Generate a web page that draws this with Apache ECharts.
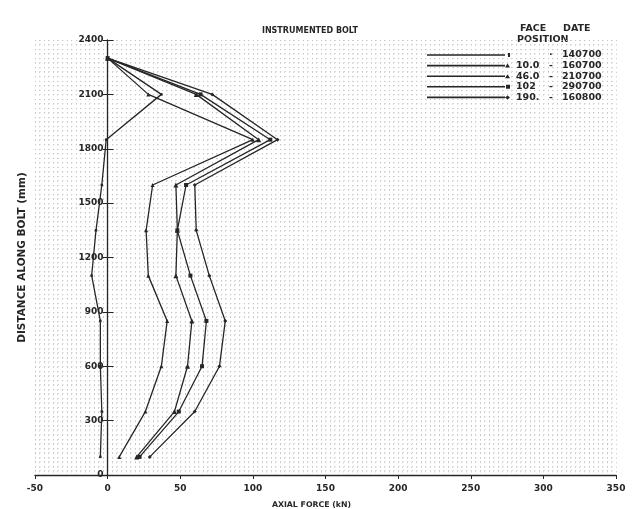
<!DOCTYPE html>
<html>
<head>
<meta charset="utf-8">
<script src="https://cdn.jsdelivr.net/npm/echarts@6/dist/echarts.min.js"></script>
<style>
  html, body { margin: 0; padding: 0; background: #fff; }
  #chart { width: 633px; height: 509px; }
</style>
</head>
<body>
<div id="chart"></div>
<script>
// depth of each gauge along the bolt (mm), top to bottom
const depths = [2300, 2100, 1850, 1600, 1350, 1100, 850, 600, 350, 100]

// legend columns
const facePositions = ['', '10.0', '46.0', '102', '190.']
const dates = ['140700', '160700', '210700', '290700', '160800']

// axial force (kN) at each depth, one array per reading
const force140700 = [0, 37, -1, -4, -8, -11, -5, -5, -4, -5]
const force160700 = [0, 28, 100, 31, 26.5, 28, 41, 37, 26, 8]
const force210700 = [0, 61, 104, 47, 48, 47, 58, 55, 46, 20]
const force290700 = [0, 64, 112, 54, 48, 57, 68, 65, 49, 22]
const force160800 = [0, 72, 117, 60, 61, 70, 81, 77, 60, 29]

const xTicks = { min: -50, max: 350, interval: 50 }
const yTicks = { min: 0, max: 2400, interval: 300 }

const allForces = [force140700, force160700, force210700, force290700, force160800]
const symbols = ['rect', 'triangle', 'triangle', 'rect', 'diamond']
const symbolSizes = [2.5, 4, 5, 4, 4]

// legend keys: a line with the marker at its right end (83 x 4 box)
const keyLine = 'M0,1.2 L78,1.2 L78,2.8 L0,2.8 Z '
const legendIcons = [
  'path://' + keyLine + 'M81,0 L83,0 L83,4 L81,4 Z',
  'path://' + keyLine + 'M78,4 L80.5,0 L83,4 Z',
  'path://' + keyLine + 'M78,4 L80.5,0 L83,4 Z',
  'path://' + keyLine + 'M79,0 L83,0 L83,4 L79,4 Z',
  'path://' + keyLine + 'M78,2 L80.5,0 L83,2 L80.5,4 Z'
]

const ink = '#262626'
const font = '"DejaVu Sans", Verdana, sans-serif'
// dot-matrix paper look
const dotLine = { color: '#c4c4c4', width: 1, type: [1, 3.54] }

const names = facePositions.map((f, i) => `${f}|${dates[i]}`)

// plot area in px, used to put the distance axis on force = 0
const gridLeft = 35, gridRight = 17
const plotWidth = 633 - gridLeft - gridRight
const zeroShift = plotWidth * (0 - xTicks.min) / (xTicks.max - xTicks.min)

const labelStyle = { fontFamily: font, fontSize: 9, fontWeight: 'bold', color: ink }
const legendText = { ...labelStyle, fontSize: 9.5, lineHeight: 9 }

const chart = echarts.init(document.getElementById('chart'), null, { renderer: 'canvas' })
chart.setOption({
  animation: false,
  backgroundColor: '#fff',
  title: {
    text: 'INSTRUMENTED BOLT',
    left: 305,
    top: 22,
    textAlign: 'center',
    textStyle: { fontFamily: font, fontSize: 8, fontWeight: 'bold', color: ink }
  },
  graphic: [
    { type: 'text', left: 520, top: 24, style: { text: 'FACE', font: `bold 9.5px ${font}`, fill: ink } },
    { type: 'text', left: 563, top: 24, style: { text: 'DATE', font: `bold 9.5px ${font}`, fill: ink } },
    { type: 'text', left: 517, top: 35, style: { text: 'POSITION', font: `bold 9.5px ${font}`, fill: ink } }
  ],
  legend: {
    orient: 'vertical',
    left: 427,
    top: 50,
    itemWidth: 85,
    itemHeight: 4,
    itemGap: 0.6,
    padding: 0,
    data: names.map((n, i) => ({ name: n, icon: legendIcons[i] })),
    formatter: name => {
      const [face, date] = name.split('|')
      return face ? `{f|${face}}{s|-}{d|${date}}` : `{f|}{p|·}{d|${date}}`
    },
    textStyle: {
      ...legendText,
      rich: {
        f: { ...legendText, width: 33 },
        s: { ...legendText, width: 13 },
        p: { ...legendText, width: 13 },
        d: { ...legendText }
      }
    }
  },
  grid: { left: gridLeft, right: gridRight, top: 40, bottom: 34, outerBoundsMode: 'none' },
  xAxis: {
    type: 'value',
    min: xTicks.min,
    max: xTicks.max,
    interval: xTicks.interval,
    name: 'AXIAL FORCE (kN)',
    nameLocation: 'middle',
    nameGap: 26,
    nameTextStyle: { ...labelStyle, fontSize: 7.8, padding: [0, 28, 0, 0] },
    axisLine: { onZero: true, lineStyle: { color: ink, width: 1.3 } },
    axisTick: { show: true, length: 4, lineStyle: { color: ink } },
    axisLabel: { ...labelStyle, margin: 9 },
    splitLine: { show: true, lineStyle: dotLine },
    minorTick: { show: false, splitNumber: 16 },
    minorSplitLine: { show: true, lineStyle: dotLine }
  },
  yAxis: [{
    type: 'value',
    min: yTicks.min,
    max: yTicks.max,
    interval: yTicks.interval,
    offset: -zeroShift,
    name: 'DISTANCE ALONG BOLT (mm)',
    nameLocation: 'middle',
    nameGap: 80,
    nameRotate: 90,
    nameTextStyle: { ...labelStyle, fontSize: 10.5 },
    axisLine: { show: true, onZero: false, lineStyle: { color: ink, width: 1.3 } },
    axisTick: { show: true, inside: true, length: 6, lineStyle: { color: ink } },
    axisLabel: { ...labelStyle, margin: 4, formatter: v => String(v) },
    splitLine: { show: true, lineStyle: dotLine },
    minorTick: { show: false, splitNumber: 12 },
    minorSplitLine: { show: true, lineStyle: dotLine }
  }, {
    // outer half of the crossing ticks on the distance axis
    type: 'value',
    position: 'left',
    min: yTicks.min,
    max: yTicks.max,
    interval: yTicks.interval,
    offset: -zeroShift,
    axisLine: { show: false },
    axisTick: { show: true, length: 5, lineStyle: { color: ink } },
    axisLabel: { show: false },
    splitLine: { show: false }
  }],
  series: allForces.map((forces, i) => ({
    name: names[i],
    type: 'line',
    symbol: symbols[i],
    symbolSize: symbolSizes[i],
    showAllSymbol: true,
    lineStyle: { color: ink, width: 1.3 },
    itemStyle: { color: ink },
    data: depths.map((d, k) => [forces[k], d])
  }))
})
</script>
</body>
</html>
